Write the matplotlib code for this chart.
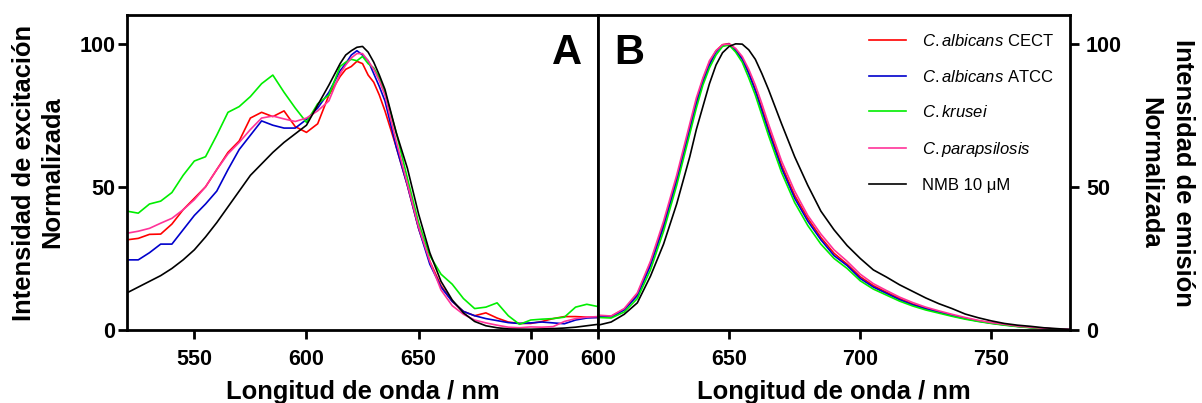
import matplotlib.pyplot as plt
import numpy as np

plt.rcParams["font.family"] = ["Liberation Sans", "DejaVu Sans"]
plt.rcParams["mathtext.fontset"] = "custom"
plt.rcParams["mathtext.rm"] = "Liberation Sans"
plt.rcParams["mathtext.it"] = "Liberation Sans:italic"

# Panel A: excitation spectra
wl_exc = ([520, 525, 530, 535, 540, 545, 550, 555, 560, 565, 570, 575, 580, 585, 590,
           595, 600, 605, 610, 615, 617.5, 620, 622.5, 625, 627.5, 630, 632.5, 635]
          + list(range(640, 731, 5)))
exc_cect = [31.5, 32, 33.4, 33.5, 37, 42, 46, 50, 56, 62, 66, 74, 76, 74.5, 76.5,
            71, 69, 72, 82, 88.5, 91, 92, 93.8, 93, 89, 86.5, 82, 76.5,
            64, 50.5, 35.5, 24, 15.5, 10, 6.5, 5, 6, 4.2, 2.8, 2.3, 2.3, 3, 4, 4.7,
            4.7, 4.5, 4.4]
exc_atcc = [24.5, 24.5, 27, 30, 30, 35, 40, 44, 48.5, 56, 63, 68, 73, 71.5, 70.5,
            70.5, 73.5, 77.5, 83, 90.5, 93, 96, 97.5, 96, 94, 89.5, 85, 80,
            64, 50.5, 35.5, 23, 15, 10, 6.5, 5, 4, 3.3, 2.6, 2.3, 2.5, 2.8, 2.5, 2.2,
            3.5, 4.2, 4.4]
exc_krusei = [41.5, 40.8, 44, 45, 48, 54, 59, 60.5, 68, 76, 78, 81.5, 86, 89, 83,
              77.5, 72.5, 79, 82, 92, 93.5, 94.5, 94, 95.5, 93, 91.5, 88, 83,
              69, 53, 37.5, 26, 19.5, 16, 11, 7.5, 8, 9.5, 5, 2, 3.5, 3.8, 4, 4.5,
              8, 9, 8.2]
exc_parap = [33.8, 34.5, 35.5, 37.3, 39, 42, 45.5, 50, 56, 61.5, 65.5, 70, 74, 74.7, 73.7,
             72.8, 74, 76.5, 80, 89.5, 92.5, 95, 96.5, 96.5, 94, 91, 87, 82,
             66, 51, 36, 24, 14, 8.5, 5.5, 3.5, 2.5, 1.7, 1, 0.8, 1.1, 1, 1.2, 3,
             4, 4.5, 4.7]
exc_nmb = [13, 15, 17, 19, 21.5, 24.5, 28, 32.5, 37.5, 43, 48.5, 54, 58, 62, 65.5,
           68.5, 71.5, 78.5, 85.5, 93, 96, 97.5, 98.7, 99, 97, 93.5, 89, 84,
           69, 56.5, 40.5, 27, 17, 10.5, 6, 3, 1.5, 0.8, 0.4, 0.3, 0.3, 0.4, 0.5, 0.7,
           1.0, 1.5, 2]

# Panel B: emission spectra
wl_em = (list(range(600, 631, 5))
         + [635, 637.5, 640, 642.5, 645, 647.5, 650, 652.5, 655, 657.5, 660, 662.5, 665]
         + list(range(670, 781, 5)))
em_cect = [5, 4.8, 7.3, 12.5, 23.5, 37, 53,
           71, 80, 87.5, 93.5, 97.5, 99.6, 100, 98, 95, 90, 84, 77.5, 70.5,
           57.5, 47, 39, 32.3, 26.8, 23, 18.6, 15.5, 13.2, 11, 9.1, 7.6, 6.4, 5.2, 4.1,
           3.2, 2.5, 1.9, 1.3, 0.9, 0.6, 0.3, 0.2]
em_atcc = [4.9, 4.6, 7, 12, 22.5, 36, 52,
           70, 79, 86.5, 92.5, 97, 99.4, 99.8, 97.6, 94.5, 89.5, 83.5, 76.5, 69.5,
           56.5, 46, 38, 31.5, 26, 22.5, 18, 15, 12.8, 10.6, 8.8, 7.4, 6.2, 5, 4,
           3.1, 2.4, 1.8, 1.3, 0.9, 0.6, 0.3, 0.2]
em_krusei = [4.4, 4.2, 6.3, 11, 21, 34.5, 50.5,
             68.5, 77.5, 85.5, 91.5, 96, 99, 99.5, 97, 93.5, 88, 82, 75, 68,
             55, 44.5, 36.5, 30, 25, 21.5, 17.2, 14.3, 12.2, 10.1, 8.4, 7, 5.9, 4.8, 3.8,
             3, 2.3, 1.7, 1.2, 0.8, 0.5, 0.3, 0.1]
em_parap = [5.2, 4.9, 7.5, 13, 24, 38, 54,
            72, 81, 88, 94, 97.5, 99.6, 99.8, 98.3, 95.5, 91, 85.5, 79, 72,
            59, 48.5, 40, 33.5, 28, 24, 19.5, 16.2, 13.8, 11.5, 9.6, 8, 6.7, 5.5, 4.4,
            3.4, 2.6, 2, 1.4, 1, 0.6, 0.4, 0.2]
em_nmb = [1.7, 2.8, 5.5, 9.5, 18.8, 30, 44,
          60.5, 70, 78, 86, 92.5, 96.8, 99, 99.9, 99.8, 97.8, 94.5, 89.5, 84,
          72, 60.5, 50.5, 41.5, 35, 29.5, 25, 21, 18.5, 15.8, 13.5, 11.2, 9.2, 7.5, 5.6,
          4.3, 3.2, 2.3, 1.7, 1.3, 0.8, 0.5, 0.2]

labels = [r"$\it{C.albicans}$ CECT", r"$\it{C.albicans}$ ATCC", r"$\it{C.krusei}$",
          r"$\it{C.parapsilosis}$", "NMB 10 μM"]
colors = ["#ff0000", "#0000cc", "#00ee00", "#ff3399", "#000000"]

fig = plt.figure(figsize=(12.02, 4.03), dpi=100)
ax_a = fig.add_axes([0.1057, 0.181, 0.3918, 0.782])
ax_b = fig.add_axes([0.4975, 0.181, 0.3927, 0.782])

for y, c, lab in zip([exc_cect, exc_atcc, exc_krusei, exc_parap, exc_nmb], colors, labels):
    ax_a.plot(wl_exc, y, color=c, lw=1.2, label=lab)
for y, c, lab in zip([em_cect, em_atcc, em_krusei, em_parap, em_nmb], colors, labels):
    ax_b.plot(wl_em, y, color=c, lw=1.2, label=lab)

label_font = dict(fontsize=18.4, fontweight="bold")
for ax in (ax_a, ax_b):
    ax.tick_params(direction="out", length=6.5, width=2, labelsize=15.5)
    ax.tick_params(axis="x", pad=7)
    for sp in ax.spines.values():
        sp.set_linewidth(2)

ax_a.set_xlim(520, 730)
ax_a.set_ylim(0, 110)
ax_a.set_xticks([550, 600, 650, 700])
ax_a.set_yticks([0, 50, 100])
ax_a.tick_params(axis="y", pad=2)
ax_a.set_xlabel("Longitud de onda / nm", labelpad=7, **label_font)
ax_a.set_ylabel("Intensidad de excitación\nNormalizada", labelpad=11, **label_font)
ax_a.text(0.965, 0.88, "A", transform=ax_a.transAxes, ha="right", va="center",
          fontsize=30, fontweight="bold")

ax_b.set_xlim(600, 780)
ax_b.set_ylim(0, 110)
ax_b.set_xticks([600, 650, 700, 750])
ax_b.set_yticks([0, 50, 100])
ax_b.yaxis.tick_right()
ax_b.yaxis.set_label_position("right")
ax_b.tick_params(axis="y", pad=5)
ax_b.set_xlabel("Longitud de onda / nm", labelpad=7, **label_font)
ax_b.set_ylabel("Intensidad de emisión\nNormalizada", rotation=-90, va="bottom",
                labelpad=12, linespacing=1.45, **label_font)
ax_b.text(0.035, 0.88, "B", transform=ax_b.transAxes, ha="left", va="center",
          fontsize=30, fontweight="bold")

for ax in (ax_a, ax_b):
    for lab in ax.get_xticklabels() + ax.get_yticklabels():
        lab.set_fontweight("bold")

ax_b.legend(loc="upper right", bbox_to_anchor=(0.998, 0.99), frameon=False, fontsize=12,
            handlelength=2.2, handletextpad=1.0, labelspacing=1.17)

fig.savefig("out.png", dpi=100)
